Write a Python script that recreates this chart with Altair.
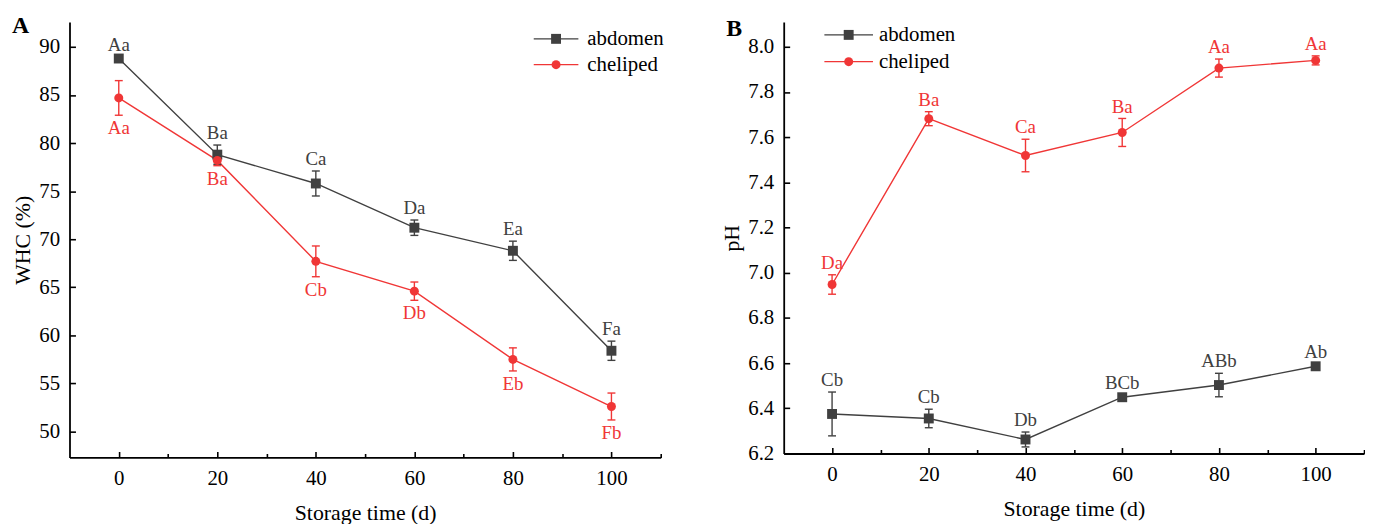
import altair as alt
import pandas as pd

# ---------------- data ----------------
days = [0, 20, 40, 60, 80, 100]
series_names = ["abdomen", "cheliped"]
series_colors = ["#404040", "#f03636"]
label_colors = ["#111111", "#f52a2a"]

whc_abdomen = [88.8, 78.8, 75.8, 71.2, 68.8, 58.4]
whc_abdomen_err = [0.2, 1.0, 1.3, 0.8, 1.0, 1.0]
whc_abdomen_lbl = ["Aa", "Ba", "Ca", "Da", "Ea", "Fa"]
whc_cheliped = [84.7, 78.2, 67.7, 64.6, 57.5, 52.6]
whc_cheliped_err = [1.8, 0.55, 1.6, 0.95, 1.2, 1.4]
whc_cheliped_lbl = ["Aa", "Ba", "Cb", "Db", "Eb", "Fb"]

ph_abdomen = [6.375, 6.355, 6.262, 6.449, 6.503, 6.586]
ph_abdomen_err = [0.097, 0.041, 0.033, 0.008, 0.052, 0.01]
ph_abdomen_lbl = ["Cb", "Cb", "Db", "BCb", "ABb", "Ab"]
ph_cheliped = [6.948, 7.682, 7.519, 7.621, 7.906, 7.940]
ph_cheliped_err = [0.043, 0.031, 0.072, 0.062, 0.040, 0.020]
ph_cheliped_lbl = ["Da", "Ba", "Ca", "Ba", "Aa", "Aa"]

x_ticks = [0, 10, 20, 30, 40, 50, 60, 70, 80, 90, 100, 110]
whc_ticks = [50, 52.5, 55, 57.5, 60, 62.5, 65, 67.5, 70, 72.5, 75, 77.5, 80,
             82.5, 85, 87.5, 90]
ph_ticks = [6.2, 6.3, 6.4, 6.5, 6.6, 6.7, 6.8, 6.9, 7.0, 7.1, 7.2, 7.3, 7.4,
            7.5, 7.6, 7.7, 7.8, 7.9, 8.0]

FONT = "Liberation Serif"
SHAPES = {"abdomen": ("square", 100), "cheliped": ("circle", 82)}


def make_df(vals_a, err_a, lbl_a, vals_c, err_c, lbl_c, pos_a, pos_c):
    rows = []
    for s, vals, errs, lbls, pos in [
        ("abdomen", vals_a, err_a, lbl_a, pos_a),
        ("cheliped", vals_c, err_c, lbl_c, pos_c),
    ]:
        for d, v, e, l in zip(days, vals, errs, lbls):
            rows.append({"day": d, "series": s, "value": v, "lo": v - e,
                         "hi": v + e, "label": l, "pos": pos,
                         "anchor": v + e if pos == "above" else v - e})
    return pd.DataFrame(rows)


color_scale = alt.Scale(domain=series_names, range=series_colors)
label_scale = alt.Scale(domain=series_names, range=label_colors)
legend_df = pd.DataFrame({"series": series_names})


def legend_marks(x0, x1, xt, rows_y):
    """Legend drawn as a small key: a line with a marker and the series name."""
    marks = []
    for name, color, ry in zip(series_names, series_colors, rows_y):
        src = alt.Chart(legend_df).transform_filter(
            alt.datum.series == name)
        shape, size = SHAPES[name]
        marks.append(src.mark_rule(color=color, strokeWidth=1.4).encode(
            x=alt.value(x0), x2=alt.value(x1), y=alt.value(ry)))
        marks.append(src.mark_point(shape=shape, filled=True, size=size,
                                    opacity=1, color=color).encode(
            x=alt.value((x0 + x1) / 2), y=alt.value(ry)))
        marks.append(src.mark_text(font=FONT, fontSize=21, color="black",
                                   align="left", baseline="middle").encode(
            text="series:N", x=alt.value(xt), y=alt.value(ry)))
    return marks


def panel(df, ydomain, yticks, ylabel_expr, yfmt, ytitle, minor_test,
          width, height, leg, letter, letter_dy):
    xs = alt.Scale(domain=[-10, 110], nice=False, zero=False)
    ys = alt.Scale(domain=ydomain, nice=False, zero=False)
    x_axis = alt.Axis(values=x_ticks, title="Storage time (d)",
                      labelExpr="datum.value % 20 === 0 && datum.value <= 100 ? datum.label : ''",
                      tickSize={"expr": "datum.value % 20 === 0 ? -6 : -4"},
                      labelPadding=16, titlePadding=15, grid=False)
    y_axis = alt.Axis(values=yticks, title=ytitle, format=yfmt,
                      labelExpr=ylabel_expr,
                      tickSize={"expr": minor_test + " ? -4 : -6"},
                      labelPadding=16, titlePadding=4, grid=False)
    X = alt.X("day:Q", scale=xs, axis=x_axis)
    Y = alt.Y("value:Q", scale=ys, axis=y_axis)
    base = alt.Chart(df)
    col = alt.Color("series:N", scale=color_scale, legend=None)

    lines = base.mark_line(strokeWidth=1.4).encode(x=X, y=Y, color=col,
                                                   detail="series:N")
    err = base.mark_rule(strokeWidth=1.4).encode(
        x="day:Q", y="lo:Q", y2="hi:Q", color=col)
    cap_lo = base.mark_tick(orient="horizontal", size=8, thickness=1.4,
                            opacity=1).encode(x="day:Q", y="lo:Q", color=col)
    cap_hi = base.mark_tick(orient="horizontal", size=8, thickness=1.4,
                            opacity=1).encode(x="day:Q", y="hi:Q", color=col)
    sq = base.transform_filter("datum.series === 'abdomen'").mark_point(
        shape="square", filled=True, size=SHAPES["abdomen"][1],
        opacity=1).encode(x="day:Q", y="value:Q", color=col)
    ci = base.transform_filter("datum.series === 'cheliped'").mark_point(
        shape="circle", filled=True, size=SHAPES["cheliped"][1],
        opacity=1).encode(x="day:Q", y="value:Q", color=col)
    tcol = alt.Color("series:N", scale=label_scale, legend=None)
    t_above = base.transform_filter("datum.pos === 'above'").mark_text(
        font=FONT, fontSize=19, baseline="alphabetic", dy=-6).encode(
        x="day:Q", y="anchor:Q", text="label:N", color=tcol)
    t_below = base.transform_filter("datum.pos === 'below'").mark_text(
        font=FONT, fontSize=19, baseline="top", dy=4).encode(
        x="day:Q", y="anchor:Q", text="label:N", color=tcol)

    letter_mark = alt.Chart(pd.DataFrame({"t": [letter]})).mark_text(
        font=FONT, fontSize=24, fontWeight="bold", align="left",
        baseline="alphabetic").encode(
        text="t:N", x=alt.value(-58), y=alt.value(letter_dy))

    return alt.layer(lines, err, cap_lo, cap_hi, sq, ci, t_above, t_below,
                     *legend_marks(*leg), letter_mark).properties(
        width=width, height=height)


df_a = make_df(whc_abdomen, whc_abdomen_err, whc_abdomen_lbl,
               whc_cheliped, whc_cheliped_err, whc_cheliped_lbl,
               "above", "below")
df_b = make_df(ph_abdomen, ph_abdomen_err, ph_abdomen_lbl,
               ph_cheliped, ph_cheliped_err, ph_cheliped_lbl,
               "above", "above")

chart_a = panel(df_a, [47.3, 92.6], whc_ticks,
                "datum.value % 5 === 0 ? datum.label : ''", ".0f", "WHC (%)",
                "datum.value % 5 !== 0", 596, 439,
                (468, 513, 522, [17, 43]), "A", 11)
chart_b = panel(df_b, [6.2, 8.11], ph_ticks,
                "round(datum.value * 10) % 2 === 0 ? format(datum.value, '.1f') : ''",
                ".1f", "pH", "round(datum.value * 10) % 2 !== 0",
                585, 435, (41, 90, 96, [13, 40]), "B", 14)

chart = alt.hconcat(chart_a, chart_b, spacing=124, bounds="flush").resolve_scale(
    color="independent", x="independent", y="independent"
).properties(
    padding={"left": 4, "top": 4, "right": 0, "bottom": 0}
).configure_view(stroke=None).configure_axis(
    labelFont=FONT, labelFontSize=21, labelColor="black",
    titleFont=FONT, titleFontSize=22, titleFontWeight="normal",
    titleColor="black", domainColor="black", domainWidth=1.8,
    tickColor="black", tickWidth=1.6,
)

chart.save("out.html", embed_options={"renderer": "svg", "actions": False})
